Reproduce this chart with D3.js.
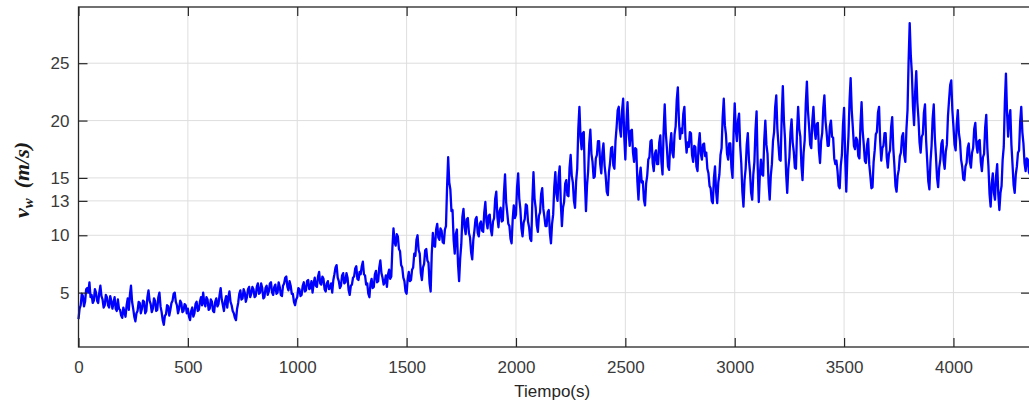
<!DOCTYPE html>
<html>
<head>
<meta charset="utf-8">
<script src="https://cdn.jsdelivr.net/npm/d3@7"></script>
<style>
  html, body { margin: 0; padding: 0; background: #fff; overflow: hidden; }
  svg { display: block; }
</style>
</head>
<body>
<svg id="chart" width="1029" height="408"></svg>
<script>
// Wind speed record, one sample every 5 s starting at t = 0
const sampleStep = 5;
const windSpeed = [
  2.7, 3.6, 3.9, 4.9, 4.7, 3.8, 4.2, 5.3, 5.4, 5.0, 5.9, 4.6, 4.8, 4.1, 4.3, 5.3, 5.0, 4.3, 4.1, 5.0,
  5.6, 4.7, 4.4, 3.7, 3.9, 4.8, 4.6, 3.9, 3.7, 4.7, 4.3, 3.6, 4.1, 4.6, 3.6, 3.4, 4.4, 3.6, 3.5, 3.0,
  2.8, 3.7, 3.3, 2.9, 3.9, 4.5, 3.5, 4.8, 5.6, 4.2, 3.6, 2.9, 2.5, 3.2, 3.4, 4.2, 4.1, 3.2, 3.6, 4.3,
  4.2, 3.2, 3.4, 4.6, 5.2, 4.3, 4.0, 3.3, 3.6, 4.5, 4.3, 3.4, 3.5, 4.6, 5.0, 3.8, 3.3, 2.6, 2.2, 3.0,
  3.1, 3.9, 3.8, 3.0, 3.5, 4.1, 4.3, 4.9, 5.0, 4.2, 3.9, 3.2, 3.6, 4.3, 4.1, 3.3, 3.4, 4.0, 3.9, 3.2,
  3.6, 2.9, 2.6, 3.4, 3.7, 2.9, 3.2, 4.0, 4.2, 3.4, 3.5, 4.2, 4.6, 3.9, 5.0, 4.1, 3.8, 4.6, 4.4, 3.5,
  3.6, 4.4, 4.2, 3.4, 3.3, 4.2, 4.5, 3.8, 4.0, 4.8, 5.4, 4.4, 3.9, 3.4, 4.3, 4.7, 3.7, 4.6, 5.1, 4.2,
  3.9, 3.4, 3.2, 2.8, 2.6, 3.6, 4.1, 4.9, 5.2, 4.4, 4.5, 5.3, 5.0, 4.2, 4.6, 5.3, 5.5, 4.6, 4.9, 5.5,
  5.3, 4.6, 4.7, 5.5, 5.8, 4.9, 5.0, 5.8, 5.4, 4.5, 4.6, 5.4, 5.6, 4.8, 5.1, 5.8, 5.9, 5.0, 4.8, 5.5,
  5.7, 4.9, 5.0, 5.9, 5.5, 4.8, 4.7, 5.6, 5.8, 6.3, 6.4, 5.5, 5.2, 6.0, 5.6, 4.9, 4.9, 4.2, 3.9, 4.4,
  4.6, 5.4, 5.3, 4.7, 4.8, 5.6, 5.9, 5.1, 5.2, 6.0, 6.1, 5.3, 5.4, 6.0, 5.0, 5.8, 6.3, 5.6, 5.5, 6.4,
  6.8, 5.8, 5.7, 6.4, 6.2, 5.3, 5.1, 5.8, 6.0, 5.3, 5.4, 5.8, 5.0, 6.1, 6.6, 7.2, 7.4, 6.3, 6.0, 5.4,
  5.6, 6.5, 6.7, 5.8, 5.9, 6.7, 6.3, 5.2, 4.8, 5.6, 5.7, 6.3, 6.4, 7.1, 7.3, 6.2, 6.1, 6.8, 6.6, 7.3,
  7.7, 6.6, 6.5, 5.7, 5.8, 4.9, 4.6, 5.8, 6.2, 5.4, 5.5, 6.6, 6.9, 5.9, 6.0, 7.2, 7.8, 6.7, 6.3, 5.7,
  5.9, 6.5, 5.5, 6.6, 7.0, 6.2, 6.4, 8.9, 10.6, 9.4, 9.1, 10.1, 9.9, 8.8, 8.6, 7.4, 7.2, 6.3, 6.0, 5.1,
  4.9, 6.2, 6.8, 6.0, 6.1, 7.0, 7.2, 8.4, 8.2, 9.6, 10.0, 8.7, 8.4, 6.7, 6.1, 7.2, 7.5, 8.7, 8.8, 7.8,
  7.6, 5.8, 5.1, 8.4, 10.2, 9.1, 9.0, 10.5, 11.0, 9.8, 9.6, 10.6, 10.4, 9.4, 9.3, 10.5, 10.8, 14.2, 16.8, 14.6,
  14.0, 12.1, 12.2, 9.6, 8.4, 10.1, 10.5, 7.5, 6.0, 8.0, 9.2, 11.6, 12.3, 10.7, 10.1, 11.4, 11.5, 10.2, 9.8, 8.5,
  7.9, 9.6, 10.4, 11.4, 11.6, 10.2, 9.9, 11.0, 11.2, 10.4, 10.3, 12.0, 12.9, 11.2, 10.6, 11.7, 11.8, 10.5, 10.0, 11.2,
  11.5, 13.2, 13.8, 11.6, 10.7, 12.1, 12.4, 11.2, 11.3, 13.7, 15.3, 12.9, 12.0, 11.0, 10.8, 9.7, 9.3, 11.4, 12.6, 11.5,
  11.8, 14.2, 15.4, 13.2, 12.3, 10.6, 9.9, 11.1, 11.4, 12.7, 12.6, 11.2, 10.7, 9.7, 9.5, 13.1, 15.5, 13.2, 12.4, 10.9,
  10.3, 11.7, 12.0, 13.6, 14.1, 12.3, 11.6, 10.8, 10.8, 12.0, 12.2, 10.2, 9.3, 11.0, 11.8, 14.2, 15.5, 13.6, 13.0, 15.1,
  16.0, 12.8, 10.8, 12.4, 12.9, 14.5, 14.8, 13.5, 13.4, 15.9, 17.0, 15.2, 14.6, 13.0, 12.4, 14.7, 15.8, 19.3, 21.2, 18.6,
  17.5, 18.9, 19.0, 14.8, 12.1, 14.4, 15.6, 18.0, 19.2, 17.1, 16.4, 15.0, 15.1, 16.7, 17.0, 18.2, 18.2, 16.2, 15.4, 17.2,
  18.0, 16.1, 15.2, 13.8, 13.5, 15.5, 16.3, 17.6, 17.7, 16.1, 15.8, 18.2, 19.4, 20.9, 21.2, 19.3, 18.6, 20.9, 21.9, 18.6,
  16.6, 19.8, 21.6, 19.0, 17.8, 19.1, 19.2, 17.2, 16.4, 17.6, 17.5, 14.7, 13.1, 15.1, 15.9, 14.6, 14.7, 13.1, 12.6, 14.5,
  15.2, 16.6, 16.8, 18.2, 18.3, 16.3, 15.6, 17.1, 17.4, 16.2, 16.2, 18.1, 18.7, 16.4, 15.3, 19.1, 21.4, 18.9, 17.6, 16.0,
  15.7, 17.9, 18.9, 17.2, 16.8, 18.8, 19.5, 21.8, 22.9, 20.0, 18.4, 19.3, 18.9, 20.6, 21.2, 18.5, 17.2, 18.1, 17.7, 19.0,
  18.9, 17.0, 16.4, 17.8, 17.7, 16.0, 15.6, 17.9, 18.9, 17.1, 16.6, 17.9, 18.0, 16.9, 17.2, 15.8, 15.4, 14.3, 14.1, 13.0,
  12.8, 15.0, 16.0, 13.8, 12.8, 14.6, 15.3, 17.0, 17.6, 20.3, 21.9, 19.6, 18.8, 17.1, 16.6, 18.0, 18.0, 15.9, 15.0, 18.9,
  21.5, 19.2, 18.2, 20.0, 20.6, 17.8, 16.3, 13.8, 12.5, 14.8, 15.8, 17.9, 18.9, 16.6, 15.5, 13.7, 13.1, 15.3, 16.4, 19.2,
  20.8, 16.1, 12.9, 15.3, 16.6, 15.3, 15.2, 18.3, 20.0, 17.9, 17.1, 14.5, 13.1, 15.2, 16.2, 18.2, 19.0, 21.2, 22.2, 19.3,
  17.9, 16.6, 16.5, 20.4, 23.0, 20.0, 18.4, 15.4, 13.7, 15.8, 16.8, 19.0, 20.1, 18.1, 17.3, 15.9, 15.8, 19.1, 21.2, 19.3,
  18.6, 16.1, 14.8, 17.2, 18.3, 21.5, 23.4, 20.8, 19.5, 17.9, 17.6, 20.0, 21.2, 19.2, 18.4, 19.7, 19.8, 17.4, 16.3, 18.2,
  18.9, 21.1, 22.2, 20.0, 19.0, 17.8, 17.8, 19.5, 20.0, 18.6, 18.5, 16.7, 16.2, 16.5, 15.6, 14.3, 14.1, 16.1, 17.0, 19.6,
  21.1, 16.8, 13.8, 16.8, 18.6, 21.7, 23.7, 20.9, 19.4, 17.8, 17.5, 18.5, 18.3, 16.9, 16.7, 19.7, 21.6, 19.1, 17.9, 16.5,
  16.3, 17.9, 18.4, 16.2, 15.2, 14.1, 14.2, 16.4, 17.4, 18.8, 19.0, 20.7, 21.2, 18.2, 16.5, 17.6, 17.8, 18.9, 18.9, 16.8,
  15.9, 17.1, 17.4, 19.4, 20.3, 17.6, 16.1, 14.3, 13.8, 15.2, 15.7, 16.9, 17.2, 18.6, 18.9, 17.0, 16.4, 19.2, 20.9, 25.2,
  28.5, 25.7, 24.1, 21.2, 19.6, 22.5, 24.3, 21.6, 20.2, 18.1, 17.2, 18.6, 18.8, 20.7, 21.4, 18.3, 16.5, 14.7, 14.0, 16.4,
  17.8, 20.2, 21.4, 18.5, 16.9, 15.0, 14.2, 15.9, 16.6, 18.0, 18.3, 16.5, 15.8, 17.3, 17.9, 20.4, 21.8, 23.1, 23.5, 20.9,
  19.5, 17.9, 17.4, 19.7, 20.9, 18.9, 18.2, 16.6, 16.0, 14.9, 14.8, 16.0, 16.3, 17.6, 18.0, 16.4, 15.9, 17.2, 17.6, 19.3,
  19.8, 17.9, 17.2, 18.2, 18.3, 16.4, 15.6, 16.8, 17.1, 19.4, 20.5, 17.6, 16.0, 13.6, 12.5, 14.5, 15.4, 13.7, 13.1, 15.2,
  16.2, 13.6, 12.2, 13.7, 14.3, 16.6, 17.7, 21.6, 24.1, 20.7, 18.6, 20.3, 20.9, 17.9, 16.2, 14.4, 13.7, 15.3, 16.0, 17.2,
  17.4, 19.9, 21.2, 19.0, 18.0, 16.3, 15.6, 16.7, 16.6, 15.5, 15.3
];

const xTicks = [0, 500, 1000, 1500, 2000, 2500, 3000, 3500, 4000];
const yTicks = [5, 10, 13, 15, 20, 25];
const xDomain = [0, 4350];
const yDomain = [0.26, 29.9];
const xTitle = "Tiempo(s)";

const svg = d3.select("#chart");
const plot = { left: 78.5, right: 1030, top: 7, bottom: 347 };
const axisColor = "#262626";
const tickFont = "Liberation Sans, Arial, sans-serif";

const x = d3.scaleLinear().domain(xDomain).range([plot.left, plot.right]);
const y = d3.scaleLinear().domain(yDomain).range([plot.bottom, plot.top]);

// grid
const grid = svg.append("g").attr("stroke", "#dedede").attr("stroke-width", 1);
grid.selectAll("line.gx").data(xTicks).join("line")
  .attr("x1", d => x(d)).attr("x2", d => x(d))
  .attr("y1", plot.top).attr("y2", plot.bottom);
grid.selectAll("line.gy").data(yTicks).join("line")
  .attr("x1", plot.left).attr("x2", plot.right)
  .attr("y1", d => y(d)).attr("y2", d => y(d));

// wind speed trace
const series = windSpeed.map((v, i) => [i * sampleStep, v]);
svg.append("path")
  .datum(series)
  .attr("fill", "none")
  .attr("stroke", "#0000ff")
  .attr("stroke-width", 2.3)
  .attr("stroke-linejoin", "round")
  .attr("d", d3.line().x(d => x(d[0])).y(d => y(d[1])));

// axes with inward ticks
function styleAxis(g) {
  g.select(".domain").remove();
  g.selectAll(".tick line").attr("stroke", axisColor).attr("stroke-width", 1.2);
  g.selectAll(".tick text")
    .attr("fill", "#3a3a3a")
    .attr("font-family", tickFont)
    .attr("font-size", 17);
}
const tickLen = 9;
svg.append("g").attr("transform", `translate(0,${plot.bottom})`)
  .call(d3.axisBottom(x).tickValues(xTicks).tickSize(-tickLen).tickPadding(14).tickFormat(d3.format("d")))
  .call(styleAxis);
svg.append("g").attr("transform", `translate(0,${plot.top})`)
  .call(d3.axisTop(x).tickValues(xTicks).tickSize(-tickLen).tickFormat(""))
  .call(styleAxis);
svg.append("g").attr("transform", `translate(${plot.left},0)`)
  .call(d3.axisLeft(y).tickValues(yTicks).tickSize(-tickLen).tickPadding(9).tickFormat(d3.format("d")))
  .call(styleAxis);
svg.append("g").attr("transform", `translate(${plot.right},0)`)
  .call(d3.axisRight(y).tickValues(yTicks).tickSize(-tickLen).tickFormat(""))
  .call(styleAxis);

// frame
svg.append("rect")
  .attr("x", plot.left).attr("y", plot.top)
  .attr("width", plot.right - plot.left).attr("height", plot.bottom - plot.top)
  .attr("fill", "none").attr("stroke", axisColor).attr("stroke-width", 1.3);

// axis titles
svg.append("text")
  .attr("x", (plot.left + plot.right) / 2 - 2)
  .attr("y", 397)
  .attr("text-anchor", "middle")
  .attr("font-family", tickFont)
  .attr("font-size", 17)
  .attr("fill", axisColor)
  .text(xTitle);

const yTitle = svg.append("text")
  .attr("transform", "translate(29,180) rotate(-90)")
  .attr("text-anchor", "middle")
  .attr("font-family", "Liberation Serif, Times New Roman, serif")
  .attr("font-style", "italic")
  .attr("font-weight", "bold")
  .attr("font-size", 22)
  .attr("fill", "#1a1a1a");
yTitle.append("tspan").text("v");
yTitle.append("tspan").attr("font-size", 15).attr("dy", 4).text("w");
yTitle.append("tspan").attr("dy", -4).attr("dx", 10).text("(m/s)");
</script>
</body>
</html>
